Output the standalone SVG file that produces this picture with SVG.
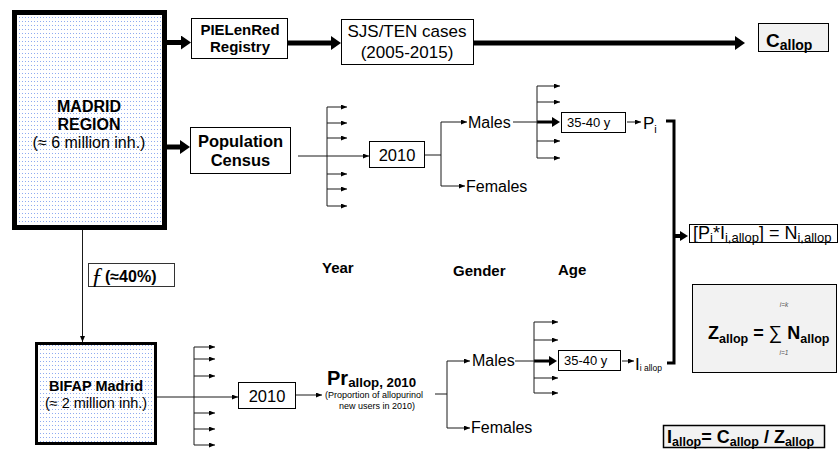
<svg xmlns="http://www.w3.org/2000/svg" width="840" height="459" viewBox="0 0 840 459">
<style>
text{font-family:"Liberation Sans",Arial,sans-serif;fill:#000}
.b{font-weight:bold}
.box{fill:#fff;stroke:#000;stroke-width:1}
.gbox{fill:#f2f2f2;stroke:#000;stroke-width:1}
.thin{stroke:#1a1a1a;stroke-width:1;fill:none}
.thk{stroke:#000;stroke-width:5;fill:none}
.mid{stroke:#000;stroke-width:3;fill:none}
</style>
<defs>
<pattern id="dots" width="3" height="4" patternUnits="userSpaceOnUse">
<rect width="3" height="4" fill="#ffffff"/>
<rect x="1" y="1" width="1" height="1" fill="#8fabf0"/>
</pattern>
<marker id="ah" markerUnits="userSpaceOnUse" markerWidth="7" markerHeight="6" refX="6" refY="2.5" orient="auto">
<path d="M0,0 L6,2.5 L0,5 z" fill="#000"/>
</marker>
<marker id="ahT" markerUnits="userSpaceOnUse" markerWidth="12" markerHeight="16" refX="4" refY="7" orient="auto">
<path d="M0,0 L10,7 L0,14 z" fill="#000"/>
</marker>
<marker id="ahM" markerUnits="userSpaceOnUse" markerWidth="10" markerHeight="12" refX="3" refY="5" orient="auto">
<path d="M0,0 L8,5 L0,10 z" fill="#000"/>
</marker>
</defs>
<rect width="840" height="459" fill="#fff"/>

<g id="connectors">
<line class="thk" x1="167" y1="42.5" x2="185" y2="42.5" marker-end="url(#ahT)"/>
<line class="thk" x1="288" y1="43" x2="335" y2="43" marker-end="url(#ahT)"/>
<line class="thk" x1="474" y1="43" x2="739" y2="43" marker-end="url(#ahT)"/>
<line class="thk" x1="167" y1="147" x2="184" y2="147" marker-end="url(#ahT)"/>
<line class="thin" x1="298" y1="156" x2="369" y2="156" marker-end="url(#ah)"/>
<line class="thin" x1="327" y1="107" x2="327" y2="206"/>
<line class="thin" x1="327" y1="107" x2="347" y2="107" marker-end="url(#ah)"/>
<line class="thin" x1="327" y1="123" x2="347" y2="123" marker-end="url(#ah)"/>
<line class="thin" x1="327" y1="138" x2="347" y2="138" marker-end="url(#ah)"/>
<line class="thin" x1="327" y1="174" x2="347" y2="174" marker-end="url(#ah)"/>
<line class="thin" x1="327" y1="189" x2="347" y2="189" marker-end="url(#ah)"/>
<line class="thin" x1="327" y1="206" x2="347" y2="206" marker-end="url(#ah)"/>
<line class="thin" x1="425" y1="155" x2="441" y2="155"/>
<line class="thin" x1="441" y1="122" x2="441" y2="186"/>
<line class="thin" x1="441" y1="122" x2="467" y2="122" marker-end="url(#ah)"/>
<line class="thin" x1="441" y1="186" x2="465" y2="186" marker-end="url(#ah)"/>
<line class="thin" x1="513" y1="122" x2="537" y2="122"/>
<line class="mid" x1="537" y1="122" x2="555" y2="122" marker-end="url(#ahM)"/>
<line class="thin" x1="537" y1="86" x2="537" y2="158"/>
<line class="thin" x1="537" y1="86" x2="560" y2="86" marker-end="url(#ah)"/>
<line class="thin" x1="537" y1="102" x2="560" y2="102" marker-end="url(#ah)"/>
<line class="thin" x1="537" y1="141" x2="560" y2="141" marker-end="url(#ah)"/>
<line class="thin" x1="537" y1="158" x2="560" y2="158" marker-end="url(#ah)"/>
<line class="thin" x1="627" y1="122" x2="641" y2="122" marker-end="url(#ah)"/>
<path d="M666,121 H674 V363 H667" stroke="#000" stroke-width="3" fill="none"/>
<line stroke="#000" stroke-width="4" x1="674" y1="236" x2="683" y2="236" marker-end="url(#ahM)"/>
<line class="thin" x1="82.5" y1="230" x2="82.5" y2="342" marker-end="url(#ah)"/>
<line class="thin" x1="157" y1="397" x2="238" y2="397" marker-end="url(#ah)"/>
<line class="thin" x1="194" y1="347" x2="194" y2="445"/>
<line class="thin" x1="194" y1="347" x2="215" y2="347" marker-end="url(#ah)"/>
<line class="thin" x1="194" y1="359" x2="215" y2="359" marker-end="url(#ah)"/>
<line class="thin" x1="194" y1="376" x2="215" y2="376" marker-end="url(#ah)"/>
<line class="thin" x1="194" y1="413" x2="215" y2="413" marker-end="url(#ah)"/>
<line class="thin" x1="194" y1="429" x2="215" y2="429" marker-end="url(#ah)"/>
<line class="thin" x1="194" y1="445" x2="215" y2="445" marker-end="url(#ah)"/>
<line class="thin" x1="296" y1="395" x2="322" y2="395" marker-end="url(#ah)"/>
<line class="thin" x1="435" y1="394" x2="447" y2="394"/>
<line class="thin" x1="447" y1="361" x2="447" y2="428"/>
<line class="thin" x1="447" y1="361" x2="470" y2="361" marker-end="url(#ah)"/>
<line class="thin" x1="447" y1="428" x2="470" y2="428" marker-end="url(#ah)"/>
<line class="thin" x1="515" y1="361" x2="534" y2="361"/>
<line class="mid" x1="534" y1="361" x2="552" y2="361" marker-end="url(#ahM)"/>
<line class="thin" x1="534" y1="322" x2="534" y2="393"/>
<line class="thin" x1="534" y1="322" x2="558" y2="322" marker-end="url(#ah)"/>
<line class="thin" x1="534" y1="340" x2="558" y2="340" marker-end="url(#ah)"/>
<line class="thin" x1="534" y1="378" x2="558" y2="378" marker-end="url(#ah)"/>
<line class="thin" x1="534" y1="393" x2="558" y2="393" marker-end="url(#ah)"/>
<line class="thin" x1="622" y1="361" x2="634" y2="361" marker-end="url(#ah)"/>
</g>

<g id="madrid">
<rect x="14.5" y="12.5" width="150" height="215" fill="url(#dots)" stroke="#000" stroke-width="5"/>
<text x="89" y="112" font-size="16" class="b" text-anchor="middle">MADRID</text>
<text x="89" y="130" font-size="16" class="b" text-anchor="middle">REGION</text>
<text x="89" y="148" font-size="16" text-anchor="middle">(≈ 6 million inh.)</text>
</g>

<g id="pielenred">
<rect class="box" x="191.5" y="18.5" width="96" height="40"/>
<text x="240" y="35" font-size="15" class="b" text-anchor="middle">PIELenRed</text>
<text x="240" y="52" font-size="15" class="b" text-anchor="middle">Registry</text>
</g>

<g id="sjs">
<rect class="box" x="341.5" y="19.5" width="132" height="45"/>
<text x="407" y="37" font-size="17" text-anchor="middle">SJS/TEN cases</text>
<text x="407" y="58" font-size="17" text-anchor="middle">(2005-2015)</text>
</g>

<g id="callop">
<rect class="gbox" x="758.5" y="23.5" width="70" height="28"/>
<text x="766" y="47" font-size="19" class="b">C<tspan font-size="14" dy="2.5">allop</tspan></text>
</g>

<g id="population">
<rect class="box" x="190.5" y="127.5" width="100" height="46"/>
<text x="240.5" y="147" font-size="16.5" class="b" text-anchor="middle">Population</text>
<text x="240.5" y="166" font-size="16.5" class="b" text-anchor="middle">Census</text>
</g>

<g id="year-top">
<rect class="box" x="369.5" y="141.5" width="55" height="26"/>
<text x="397" y="161" font-size="16.5" text-anchor="middle">2010</text>
</g>

<g id="males-top"><text x="468" y="128" font-size="16">Males</text></g>
<g id="females-top"><text x="466" y="192" font-size="16">Females</text></g>

<g id="age-top">
<rect class="box" x="561.5" y="112.5" width="64" height="20"/>
<text x="567" y="127" font-size="13">35-40 y</text>
</g>

<g id="pi"><text x="643" y="129" font-size="17">P<tspan font-size="11" dy="4">i</tspan></text></g>

<g id="nbox">
<rect class="box" x="689.5" y="224.5" width="148" height="18"/>
<text x="693" y="239" font-size="18">[P<tspan font-size="13" dy="3">i</tspan><tspan dy="-3">*I</tspan><tspan font-size="13" dy="3">i,allop</tspan><tspan dy="-3">] = N</tspan><tspan font-size="13" dy="3">i,allop</tspan></text>
</g>

<g id="zbox">
<rect class="gbox" x="692.5" y="284.5" width="144" height="88"/>
<text x="708" y="339" font-size="18" class="b">Z<tspan font-size="12.5" dy="4">allop</tspan><tspan dy="-4"> = </tspan><tspan font-weight="normal" font-size="19">∑</tspan><tspan> N</tspan><tspan font-size="12.5" dy="4">allop</tspan></text>
<text x="784" y="307" font-size="6.5" font-style="italic" text-anchor="middle" style="fill:#555">i=k</text>
<text x="784" y="355" font-size="6.5" font-style="italic" text-anchor="middle" style="fill:#555">i=1</text>
</g>

<g id="f-label">
<rect x="88.5" y="263.5" width="86" height="23" fill="#fff" stroke="#333" stroke-width="1"/>
<text x="91" y="283" font-size="24" font-style="italic" style="font-family:'Liberation Serif','DejaVu Serif',serif">ƒ</text>
<text x="105" y="282" font-size="16" class="b">(≈40%)</text>
</g>

<g id="labels">
<text x="322" y="273" font-size="15" class="b">Year</text>
<text x="453" y="276" font-size="15" class="b">Gender</text>
<text x="558" y="275" font-size="15" class="b">Age</text>
</g>

<g id="bifap">
<rect x="36.5" y="343.5" width="119" height="100" fill="url(#dots)" stroke="#000" stroke-width="3"/>
<text x="96" y="391" font-size="14.5" class="b" text-anchor="middle">BIFAP Madrid</text>
<text x="96" y="408" font-size="14.5" text-anchor="middle">(≈ 2 million inh.)</text>
</g>

<g id="year-bottom">
<rect class="box" x="238.5" y="382.5" width="57" height="26"/>
<text x="267" y="402" font-size="16.5" text-anchor="middle">2010</text>
</g>

<g id="pr">
<text x="327" y="385" font-size="20" class="b">Pr<tspan font-size="13.3" dy="2">allop, 2010</tspan></text>
<text x="374" y="398" font-size="9" text-anchor="middle">(Proportion of allopurinol</text>
<text x="377" y="409" font-size="9" text-anchor="middle">new users in 2010)</text>
</g>

<g id="males-bottom"><text x="472" y="366" font-size="16">Males</text></g>
<g id="females-bottom"><text x="471" y="433" font-size="16">Females</text></g>

<g id="age-bottom">
<rect class="box" x="558.5" y="350.5" width="62" height="20"/>
<text x="564" y="365" font-size="13">35-40 y</text>
</g>

<g id="ii"><text x="635" y="370" font-size="17">I<tspan font-size="8.5" dy="1">i allop</tspan></text></g>

<g id="iallop">
<rect x="663.5" y="425.5" width="161" height="22" fill="#f2f2f2" stroke="#000" stroke-width="1.5"/>
<text x="667" y="443" font-size="18" class="b">I<tspan font-size="12.5" dy="3">allop</tspan><tspan dy="-3">= C</tspan><tspan font-size="12.5" dy="3">allop</tspan><tspan dy="-3"> / Z</tspan><tspan font-size="12.5" dy="3">allop</tspan></text>
</g>
</svg>
